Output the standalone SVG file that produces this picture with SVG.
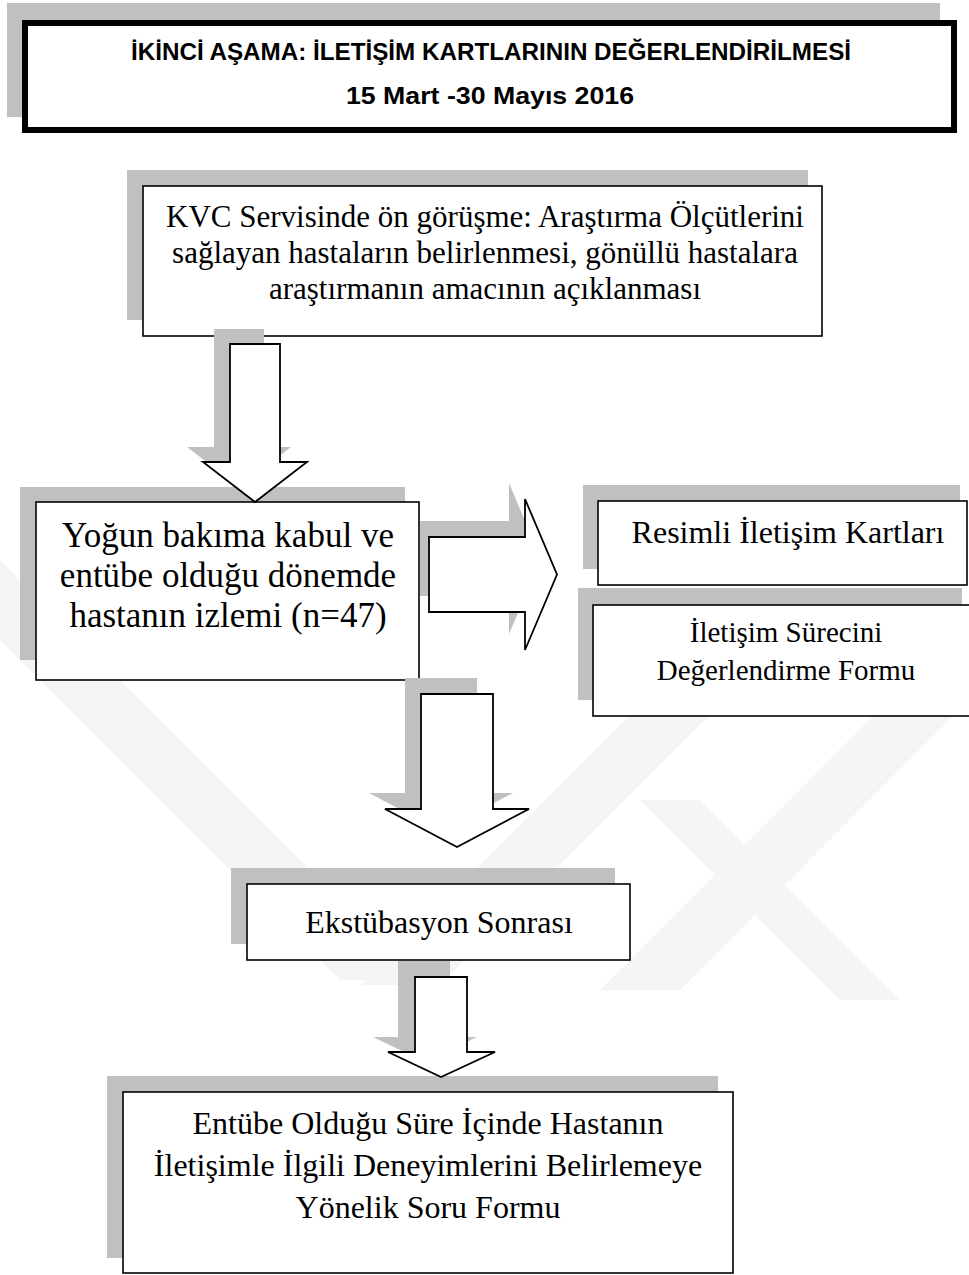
<svg xmlns="http://www.w3.org/2000/svg" width="969" height="1275" viewBox="0 0 969 1275">
<style>
.wm{fill:#f5f5f5;stroke:none}
.sh{fill:#c0c0c0;stroke:none}
.box{fill:#ffffff;stroke:#000000;stroke-width:1.6}
.arrow{fill:#ffffff;stroke:#000000;stroke-width:1.8;stroke-linejoin:miter}
.t{font-family:"Liberation Serif","Times New Roman",serif;fill:#000000;text-anchor:middle}
.tb{font-family:"Liberation Sans",Arial,sans-serif;font-weight:bold;fill:#000000;text-anchor:middle}
</style>
<rect x="0" y="0" width="969" height="1275" fill="#ffffff"/>
<g id="watermark">
<polygon class="wm" points="0,640 0,560 420,980 340,980"/>
<polygon class="wm" points="360,985 440,985 780,645 700,645"/>
<polygon class="wm" points="600,990 680,990 969,700 969,620"/>
<polygon class="wm" points="640,800 700,800 900,1000 840,1000"/>
</g>
<g id="title">
<rect x="7" y="3" width="933" height="114" class="sh" stroke="#d6d6d6" stroke-width="1"/>
<rect x="25" y="23" width="929" height="107" fill="#ffffff" stroke="#000000" stroke-width="6"/>
<text class="tb" x="491" y="60" font-size="24" textLength="720" lengthAdjust="spacingAndGlyphs">İKİNCİ AŞAMA: İLETİŞİM KARTLARININ DEĞERLENDİRİLMESİ</text>
<text class="tb" x="490" y="104" font-size="24" textLength="288" lengthAdjust="spacingAndGlyphs">15 Mart -30 Mayıs 2016</text>
</g>
<g id="node-kvc">
<rect x="127" y="170" width="681" height="150" class="sh"/>
<rect x="143" y="186" width="679" height="150" class="box"/>
<text class="t" font-size="31"><tspan x="485" y="227">KVC Servisinde ön görüşme: Araştırma Ölçütlerini</tspan><tspan x="485" y="263">sağlayan hastaların belirlenmesi, gönüllü hastalara</tspan><tspan x="485" y="299">araştırmanın amacının açıklanması</tspan></text>
</g>
<g id="node-yogun">
<rect x="20" y="487" width="385" height="173" class="sh"/>
<rect x="36" y="502" width="383" height="178" class="box"/>
<text class="t" font-size="35"><tspan x="228" y="547">Yoğun bakıma kabul ve</tspan><tspan x="228" y="587">entübe olduğu dönemde</tspan><tspan x="228" y="627">hastanın izlemi (n=47)</tspan></text>
</g>
<g id="node-resimli">
<rect x="583" y="485" width="377" height="84" class="sh"/>
<rect x="598" y="501" width="369" height="84" class="box"/>
<text class="t" font-size="32" x="788" y="543">Resimli İletişim Kartları</text>
</g>
<g id="node-iletisim">
<rect x="578" y="588" width="384" height="112" class="sh"/>
<rect x="593" y="605" width="390" height="111" class="box"/>
<text class="t" font-size="29"><tspan x="786" y="642">İletişim Sürecini</tspan><tspan x="786" y="680">Değerlendirme Formu</tspan></text>
</g>
<g id="node-ekstubasyon">
<rect x="231" y="868" width="384" height="76" class="sh"/>
<rect x="247" y="884" width="383" height="76" class="box"/>
<text class="t" font-size="32" x="439" y="933">Ekstübasyon Sonrası</text>
</g>
<g id="node-entube">
<rect x="107" y="1076" width="611" height="182" class="sh"/>
<rect x="123" y="1092" width="610" height="181" class="box"/>
<text class="t" font-size="32"><tspan x="428" y="1134">Entübe Olduğu Süre İçinde Hastanın</tspan><tspan x="428" y="1176">İletişimle İlgili Deneyimlerini Belirlemeye</tspan><tspan x="428" y="1218">Yönelik Soru Formu</tspan></text>
</g>
<g id="connectors">
<polygon class="sh" points="214,329 264,329 264,447 291,447 239,487 187,447 214,447"/>
<polygon class="arrow" points="230,344 280,344 280,462 307,462 255,502 203,462 230,462"/>
<polygon class="sh" points="420,521 509,521 509,483 541,558.5 509,634 509,596 420,596"/>
<polygon class="arrow" points="429,537 525,537 525,499 557,574.5 525,650 525,612 429,612"/>
<polygon class="sh" points="405,678 477,678 477,793 513,793 441,831 369,793 405,793"/>
<polygon class="arrow" points="421,694 493,694 493,809 529,809 457,847 385,809 421,809"/>
<polygon class="sh" points="398,961 450,961 450,1037 477,1037 425,1062 373,1037 398,1037"/>
<polygon class="arrow" points="415,977 467,977 467,1052 495,1052 441,1077 388,1052 415,1052"/>
</g>
</svg>
